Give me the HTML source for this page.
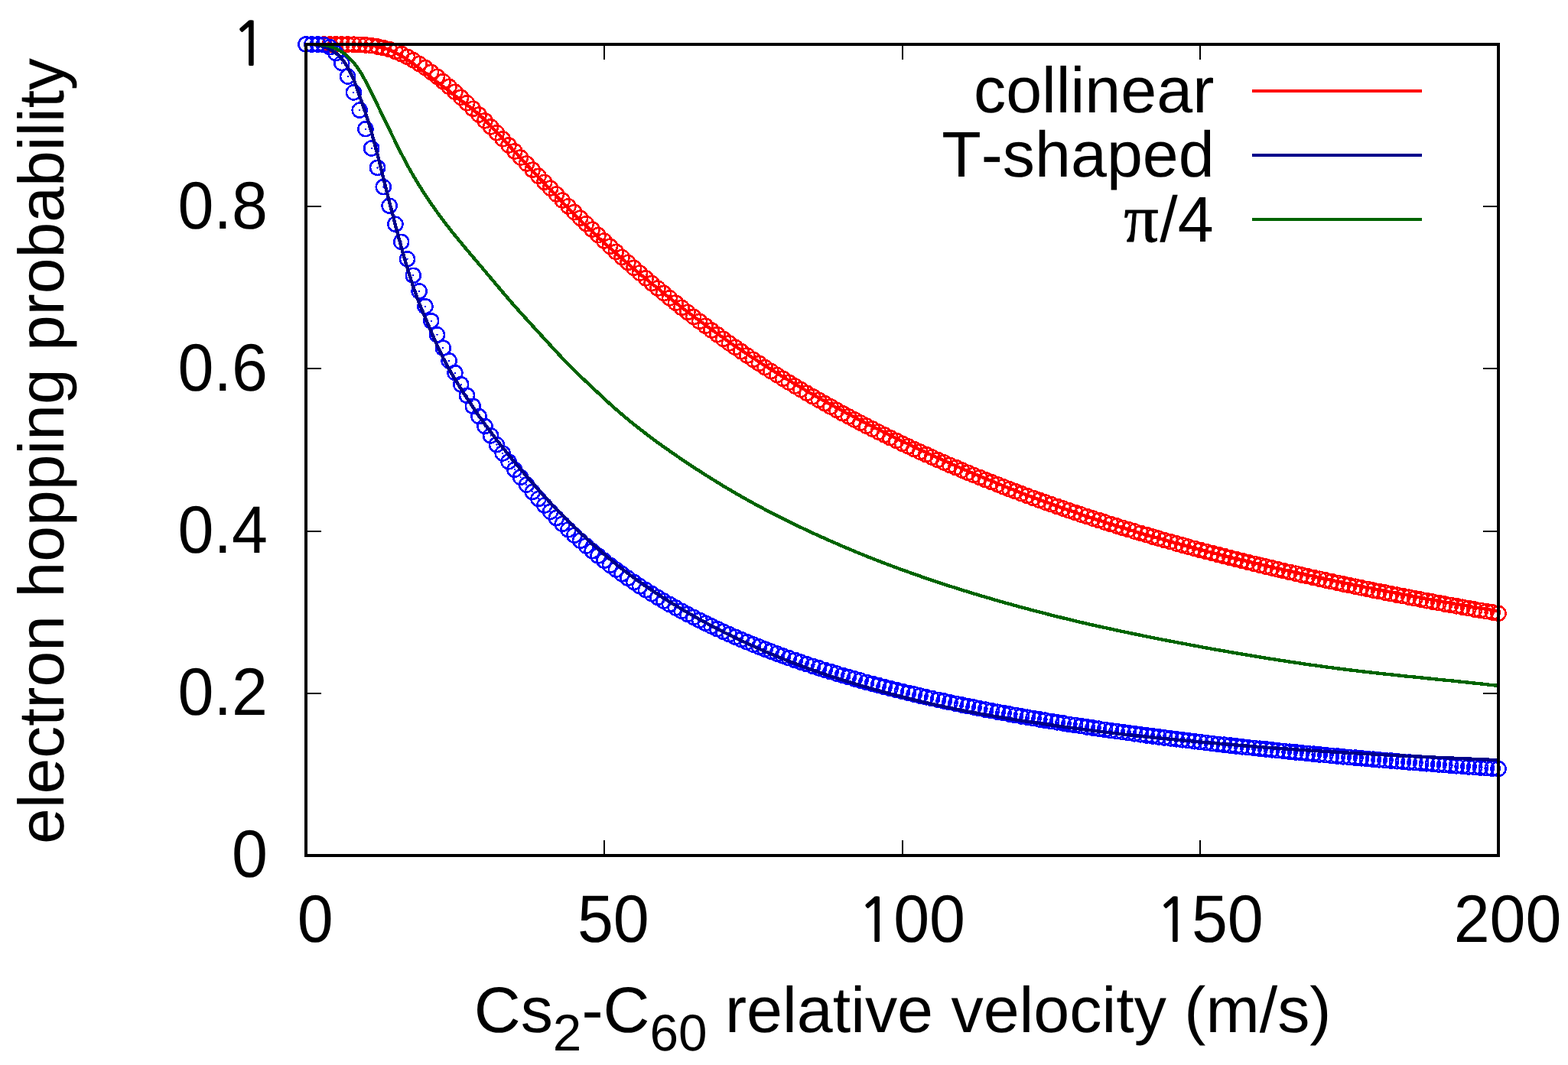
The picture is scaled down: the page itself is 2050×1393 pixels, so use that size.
<!DOCTYPE html>
<html lang="en"><head><meta charset="utf-8"><title>electron hopping probability</title>
<style>html,body{margin:0;padding:0;background:#fff}body{width:2050px;height:1393px;overflow:hidden}svg{display:block}text{font-family:"Liberation Sans",sans-serif;font-size:84.4px;fill:#000;font-kerning:none;text-rendering:geometricPrecision}.pi{font-family:"Liberation Serif",serif}.one{font-family:"NanumGothic","Liberation Sans",sans-serif;font-size:75.2px;stroke:#000;stroke-width:1.5px}</style></head><body>
<svg width="2050" height="1393" viewBox="0 0 2050 1393">
<rect width="2050" height="1393" fill="#fff"/>
<g fill="none" stroke="#ff0000" stroke-width="2.6" shape-rendering="crispEdges">
<circle cx="400" cy="58" r="9.5"/>
<circle cx="407.8" cy="58" r="9.5"/>
<circle cx="415.6" cy="58" r="9.5"/>
<circle cx="423.4" cy="58" r="9.5"/>
<circle cx="431.2" cy="58" r="9.5"/>
<circle cx="439" cy="58" r="9.5"/>
<circle cx="446.8" cy="58" r="9.5"/>
<circle cx="454.6" cy="58" r="9.5"/>
<circle cx="462.4" cy="58.2" r="9.5"/>
<circle cx="470.2" cy="58.4" r="9.5"/>
<circle cx="477.9" cy="58.9" r="9.5"/>
<circle cx="485.7" cy="59.7" r="9.5"/>
<circle cx="493.5" cy="60.9" r="9.5"/>
<circle cx="501.3" cy="62.5" r="9.5"/>
<circle cx="509.1" cy="64.7" r="9.5"/>
<circle cx="516.9" cy="67.4" r="9.5"/>
<circle cx="524.7" cy="70.6" r="9.5"/>
<circle cx="532.5" cy="74.4" r="9.5"/>
<circle cx="540.3" cy="78.7" r="9.5"/>
<circle cx="548.1" cy="83.4" r="9.5"/>
<circle cx="555.9" cy="88.6" r="9.5"/>
<circle cx="563.7" cy="94.3" r="9.5"/>
<circle cx="571.5" cy="100.3" r="9.5"/>
<circle cx="579.3" cy="106.6" r="9.5"/>
<circle cx="587.1" cy="113.3" r="9.5"/>
<circle cx="594.9" cy="120.2" r="9.5"/>
<circle cx="602.7" cy="127.4" r="9.5"/>
<circle cx="610.5" cy="134.8" r="9.5"/>
<circle cx="618.3" cy="142.3" r="9.5"/>
<circle cx="626.1" cy="150" r="9.5"/>
<circle cx="633.9" cy="157.8" r="9.5"/>
<circle cx="641.6" cy="165.8" r="9.5"/>
<circle cx="649.4" cy="173.7" r="9.5"/>
<circle cx="657.2" cy="181.8" r="9.5"/>
<circle cx="665" cy="189.9" r="9.5"/>
<circle cx="672.8" cy="197.9" r="9.5"/>
<circle cx="680.6" cy="206" r="9.5"/>
<circle cx="688.4" cy="214.1" r="9.5"/>
<circle cx="696.2" cy="222.2" r="9.5"/>
<circle cx="704" cy="230.3" r="9.5"/>
<circle cx="711.8" cy="238.3" r="9.5"/>
<circle cx="719.6" cy="246.2" r="9.5"/>
<circle cx="727.4" cy="254.1" r="9.5"/>
<circle cx="735.2" cy="262" r="9.5"/>
<circle cx="743" cy="269.8" r="9.5"/>
<circle cx="750.8" cy="277.5" r="9.5"/>
<circle cx="758.6" cy="285.2" r="9.5"/>
<circle cx="766.4" cy="292.7" r="9.5"/>
<circle cx="774.2" cy="300.2" r="9.5"/>
<circle cx="782" cy="307.6" r="9.5"/>
<circle cx="789.8" cy="315" r="9.5"/>
<circle cx="797.5" cy="322.2" r="9.5"/>
<circle cx="805.3" cy="329.4" r="9.5"/>
<circle cx="813.1" cy="336.4" r="9.5"/>
<circle cx="820.9" cy="343.4" r="9.5"/>
<circle cx="828.7" cy="350.3" r="9.5"/>
<circle cx="836.5" cy="357.1" r="9.5"/>
<circle cx="844.3" cy="363.9" r="9.5"/>
<circle cx="852.1" cy="370.5" r="9.5"/>
<circle cx="859.9" cy="377" r="9.5"/>
<circle cx="867.7" cy="383.5" r="9.5"/>
<circle cx="875.5" cy="389.8" r="9.5"/>
<circle cx="883.3" cy="396.1" r="9.5"/>
<circle cx="891.1" cy="402.3" r="9.5"/>
<circle cx="898.9" cy="408.4" r="9.5"/>
<circle cx="906.7" cy="414.5" r="9.5"/>
<circle cx="914.5" cy="420.4" r="9.5"/>
<circle cx="922.3" cy="426.2" r="9.5"/>
<circle cx="930.1" cy="432" r="9.5"/>
<circle cx="937.9" cy="437.7" r="9.5"/>
<circle cx="945.6" cy="443.3" r="9.5"/>
<circle cx="953.4" cy="448.9" r="9.5"/>
<circle cx="961.2" cy="454.3" r="9.5"/>
<circle cx="969" cy="459.7" r="9.5"/>
<circle cx="976.8" cy="465" r="9.5"/>
<circle cx="984.6" cy="470.3" r="9.5"/>
<circle cx="992.4" cy="475.4" r="9.5"/>
<circle cx="1000.2" cy="480.5" r="9.5"/>
<circle cx="1008" cy="485.5" r="9.5"/>
<circle cx="1015.8" cy="490.5" r="9.5"/>
<circle cx="1023.6" cy="495.3" r="9.5"/>
<circle cx="1031.4" cy="500.2" r="9.5"/>
<circle cx="1039.2" cy="504.9" r="9.5"/>
<circle cx="1047" cy="509.6" r="9.5"/>
<circle cx="1054.8" cy="514.2" r="9.5"/>
<circle cx="1062.6" cy="518.7" r="9.5"/>
<circle cx="1070.4" cy="523.2" r="9.5"/>
<circle cx="1078.2" cy="527.7" r="9.5"/>
<circle cx="1086" cy="532" r="9.5"/>
<circle cx="1093.8" cy="536.3" r="9.5"/>
<circle cx="1101.5" cy="540.6" r="9.5"/>
<circle cx="1109.3" cy="544.8" r="9.5"/>
<circle cx="1117.1" cy="548.9" r="9.5"/>
<circle cx="1124.9" cy="553" r="9.5"/>
<circle cx="1132.7" cy="557.1" r="9.5"/>
<circle cx="1140.5" cy="561" r="9.5"/>
<circle cx="1148.3" cy="565" r="9.5"/>
<circle cx="1156.1" cy="568.8" r="9.5"/>
<circle cx="1163.9" cy="572.7" r="9.5"/>
<circle cx="1171.7" cy="576.4" r="9.5"/>
<circle cx="1179.5" cy="580.2" r="9.5"/>
<circle cx="1187.3" cy="583.8" r="9.5"/>
<circle cx="1195.1" cy="587.5" r="9.5"/>
<circle cx="1202.9" cy="591.1" r="9.5"/>
<circle cx="1210.7" cy="594.6" r="9.5"/>
<circle cx="1218.5" cy="598.1" r="9.5"/>
<circle cx="1226.3" cy="601.5" r="9.5"/>
<circle cx="1234.1" cy="604.9" r="9.5"/>
<circle cx="1241.9" cy="608.3" r="9.5"/>
<circle cx="1249.7" cy="611.6" r="9.5"/>
<circle cx="1257.5" cy="614.9" r="9.5"/>
<circle cx="1265.2" cy="618.2" r="9.5"/>
<circle cx="1273" cy="621.4" r="9.5"/>
<circle cx="1280.8" cy="624.5" r="9.5"/>
<circle cx="1288.6" cy="627.7" r="9.5"/>
<circle cx="1296.4" cy="630.7" r="9.5"/>
<circle cx="1304.2" cy="633.8" r="9.5"/>
<circle cx="1312" cy="636.8" r="9.5"/>
<circle cx="1319.8" cy="639.8" r="9.5"/>
<circle cx="1327.6" cy="642.7" r="9.5"/>
<circle cx="1335.4" cy="645.7" r="9.5"/>
<circle cx="1343.2" cy="648.5" r="9.5"/>
<circle cx="1351" cy="651.4" r="9.5"/>
<circle cx="1358.8" cy="654.2" r="9.5"/>
<circle cx="1366.6" cy="657" r="9.5"/>
<circle cx="1374.4" cy="659.7" r="9.5"/>
<circle cx="1382.2" cy="662.4" r="9.5"/>
<circle cx="1390" cy="665.1" r="9.5"/>
<circle cx="1397.8" cy="667.8" r="9.5"/>
<circle cx="1405.6" cy="670.4" r="9.5"/>
<circle cx="1413.3" cy="673" r="9.5"/>
<circle cx="1421.1" cy="675.5" r="9.5"/>
<circle cx="1428.9" cy="678.1" r="9.5"/>
<circle cx="1436.7" cy="680.6" r="9.5"/>
<circle cx="1444.5" cy="683.1" r="9.5"/>
<circle cx="1452.3" cy="685.5" r="9.5"/>
<circle cx="1460.1" cy="688" r="9.5"/>
<circle cx="1467.9" cy="690.4" r="9.5"/>
<circle cx="1475.7" cy="692.7" r="9.5"/>
<circle cx="1483.5" cy="695.1" r="9.5"/>
<circle cx="1491.3" cy="697.4" r="9.5"/>
<circle cx="1499.1" cy="699.7" r="9.5"/>
<circle cx="1506.9" cy="702" r="9.5"/>
<circle cx="1514.7" cy="704.2" r="9.5"/>
<circle cx="1522.5" cy="706.5" r="9.5"/>
<circle cx="1530.3" cy="708.7" r="9.5"/>
<circle cx="1538.1" cy="710.9" r="9.5"/>
<circle cx="1545.9" cy="713" r="9.5"/>
<circle cx="1553.7" cy="715.2" r="9.5"/>
<circle cx="1561.5" cy="717.3" r="9.5"/>
<circle cx="1569.2" cy="719.4" r="9.5"/>
<circle cx="1577" cy="721.4" r="9.5"/>
<circle cx="1584.8" cy="723.5" r="9.5"/>
<circle cx="1592.6" cy="725.5" r="9.5"/>
<circle cx="1600.4" cy="727.5" r="9.5"/>
<circle cx="1608.2" cy="729.5" r="9.5"/>
<circle cx="1616" cy="731.5" r="9.5"/>
<circle cx="1623.8" cy="733.4" r="9.5"/>
<circle cx="1631.6" cy="735.4" r="9.5"/>
<circle cx="1639.4" cy="737.3" r="9.5"/>
<circle cx="1647.2" cy="739.2" r="9.5"/>
<circle cx="1655" cy="741.1" r="9.5"/>
<circle cx="1662.8" cy="742.9" r="9.5"/>
<circle cx="1670.6" cy="744.8" r="9.5"/>
<circle cx="1678.4" cy="746.6" r="9.5"/>
<circle cx="1686.2" cy="748.4" r="9.5"/>
<circle cx="1694" cy="750.2" r="9.5"/>
<circle cx="1701.8" cy="752" r="9.5"/>
<circle cx="1709.6" cy="753.7" r="9.5"/>
<circle cx="1717.4" cy="755.5" r="9.5"/>
<circle cx="1725.2" cy="757.2" r="9.5"/>
<circle cx="1732.9" cy="758.9" r="9.5"/>
<circle cx="1740.7" cy="760.6" r="9.5"/>
<circle cx="1748.5" cy="762.3" r="9.5"/>
<circle cx="1756.3" cy="763.9" r="9.5"/>
<circle cx="1764.1" cy="765.6" r="9.5"/>
<circle cx="1771.9" cy="767.2" r="9.5"/>
<circle cx="1779.7" cy="768.8" r="9.5"/>
<circle cx="1787.5" cy="770.4" r="9.5"/>
<circle cx="1795.3" cy="772" r="9.5"/>
<circle cx="1803.1" cy="773.6" r="9.5"/>
<circle cx="1810.9" cy="775.1" r="9.5"/>
<circle cx="1818.7" cy="776.7" r="9.5"/>
<circle cx="1826.5" cy="778.2" r="9.5"/>
<circle cx="1834.3" cy="779.7" r="9.5"/>
<circle cx="1842.1" cy="781.2" r="9.5"/>
<circle cx="1849.9" cy="782.7" r="9.5"/>
<circle cx="1857.7" cy="784.2" r="9.5"/>
<circle cx="1865.5" cy="785.7" r="9.5"/>
<circle cx="1873.3" cy="787.1" r="9.5"/>
<circle cx="1881" cy="788.6" r="9.5"/>
<circle cx="1888.8" cy="790" r="9.5"/>
<circle cx="1896.6" cy="791.4" r="9.5"/>
<circle cx="1904.4" cy="792.8" r="9.5"/>
<circle cx="1912.2" cy="794.2" r="9.5"/>
<circle cx="1920" cy="795.6" r="9.5"/>
<circle cx="1927.8" cy="797" r="9.5"/>
<circle cx="1935.6" cy="798.3" r="9.5"/>
<circle cx="1943.4" cy="799.7" r="9.5"/>
<circle cx="1951.2" cy="801" r="9.5"/>
<circle cx="1959" cy="802.3" r="9.5"/>
</g>
<g fill="#ff0000" shape-rendering="crispEdges">
<circle cx="400" cy="58" r="1.15"/>
<circle cx="407.8" cy="58" r="1.15"/>
<circle cx="415.6" cy="58" r="1.15"/>
<circle cx="423.4" cy="58" r="1.15"/>
<circle cx="431.2" cy="58" r="1.15"/>
<circle cx="439" cy="58" r="1.15"/>
<circle cx="446.8" cy="58" r="1.15"/>
<circle cx="454.6" cy="58" r="1.15"/>
<circle cx="462.4" cy="58.2" r="1.15"/>
<circle cx="470.2" cy="58.4" r="1.15"/>
<circle cx="477.9" cy="58.9" r="1.15"/>
<circle cx="485.7" cy="59.7" r="1.15"/>
<circle cx="493.5" cy="60.9" r="1.15"/>
<circle cx="501.3" cy="62.5" r="1.15"/>
<circle cx="509.1" cy="64.7" r="1.15"/>
<circle cx="516.9" cy="67.4" r="1.15"/>
<circle cx="524.7" cy="70.6" r="1.15"/>
<circle cx="532.5" cy="74.4" r="1.15"/>
<circle cx="540.3" cy="78.7" r="1.15"/>
<circle cx="548.1" cy="83.4" r="1.15"/>
<circle cx="555.9" cy="88.6" r="1.15"/>
<circle cx="563.7" cy="94.3" r="1.15"/>
<circle cx="571.5" cy="100.3" r="1.15"/>
<circle cx="579.3" cy="106.6" r="1.15"/>
<circle cx="587.1" cy="113.3" r="1.15"/>
<circle cx="594.9" cy="120.2" r="1.15"/>
<circle cx="602.7" cy="127.4" r="1.15"/>
<circle cx="610.5" cy="134.8" r="1.15"/>
<circle cx="618.3" cy="142.3" r="1.15"/>
<circle cx="626.1" cy="150" r="1.15"/>
<circle cx="633.9" cy="157.8" r="1.15"/>
<circle cx="641.6" cy="165.8" r="1.15"/>
<circle cx="649.4" cy="173.7" r="1.15"/>
<circle cx="657.2" cy="181.8" r="1.15"/>
<circle cx="665" cy="189.9" r="1.15"/>
<circle cx="672.8" cy="197.9" r="1.15"/>
<circle cx="680.6" cy="206" r="1.15"/>
<circle cx="688.4" cy="214.1" r="1.15"/>
<circle cx="696.2" cy="222.2" r="1.15"/>
<circle cx="704" cy="230.3" r="1.15"/>
<circle cx="711.8" cy="238.3" r="1.15"/>
<circle cx="719.6" cy="246.2" r="1.15"/>
<circle cx="727.4" cy="254.1" r="1.15"/>
<circle cx="735.2" cy="262" r="1.15"/>
<circle cx="743" cy="269.8" r="1.15"/>
<circle cx="750.8" cy="277.5" r="1.15"/>
<circle cx="758.6" cy="285.2" r="1.15"/>
<circle cx="766.4" cy="292.7" r="1.15"/>
<circle cx="774.2" cy="300.2" r="1.15"/>
<circle cx="782" cy="307.6" r="1.15"/>
<circle cx="789.8" cy="315" r="1.15"/>
<circle cx="797.5" cy="322.2" r="1.15"/>
<circle cx="805.3" cy="329.4" r="1.15"/>
<circle cx="813.1" cy="336.4" r="1.15"/>
<circle cx="820.9" cy="343.4" r="1.15"/>
<circle cx="828.7" cy="350.3" r="1.15"/>
<circle cx="836.5" cy="357.1" r="1.15"/>
<circle cx="844.3" cy="363.9" r="1.15"/>
<circle cx="852.1" cy="370.5" r="1.15"/>
<circle cx="859.9" cy="377" r="1.15"/>
<circle cx="867.7" cy="383.5" r="1.15"/>
<circle cx="875.5" cy="389.8" r="1.15"/>
<circle cx="883.3" cy="396.1" r="1.15"/>
<circle cx="891.1" cy="402.3" r="1.15"/>
<circle cx="898.9" cy="408.4" r="1.15"/>
<circle cx="906.7" cy="414.5" r="1.15"/>
<circle cx="914.5" cy="420.4" r="1.15"/>
<circle cx="922.3" cy="426.2" r="1.15"/>
<circle cx="930.1" cy="432" r="1.15"/>
<circle cx="937.9" cy="437.7" r="1.15"/>
<circle cx="945.6" cy="443.3" r="1.15"/>
<circle cx="953.4" cy="448.9" r="1.15"/>
<circle cx="961.2" cy="454.3" r="1.15"/>
<circle cx="969" cy="459.7" r="1.15"/>
<circle cx="976.8" cy="465" r="1.15"/>
<circle cx="984.6" cy="470.3" r="1.15"/>
<circle cx="992.4" cy="475.4" r="1.15"/>
<circle cx="1000.2" cy="480.5" r="1.15"/>
<circle cx="1008" cy="485.5" r="1.15"/>
<circle cx="1015.8" cy="490.5" r="1.15"/>
<circle cx="1023.6" cy="495.3" r="1.15"/>
<circle cx="1031.4" cy="500.2" r="1.15"/>
<circle cx="1039.2" cy="504.9" r="1.15"/>
<circle cx="1047" cy="509.6" r="1.15"/>
<circle cx="1054.8" cy="514.2" r="1.15"/>
<circle cx="1062.6" cy="518.7" r="1.15"/>
<circle cx="1070.4" cy="523.2" r="1.15"/>
<circle cx="1078.2" cy="527.7" r="1.15"/>
<circle cx="1086" cy="532" r="1.15"/>
<circle cx="1093.8" cy="536.3" r="1.15"/>
<circle cx="1101.5" cy="540.6" r="1.15"/>
<circle cx="1109.3" cy="544.8" r="1.15"/>
<circle cx="1117.1" cy="548.9" r="1.15"/>
<circle cx="1124.9" cy="553" r="1.15"/>
<circle cx="1132.7" cy="557.1" r="1.15"/>
<circle cx="1140.5" cy="561" r="1.15"/>
<circle cx="1148.3" cy="565" r="1.15"/>
<circle cx="1156.1" cy="568.8" r="1.15"/>
<circle cx="1163.9" cy="572.7" r="1.15"/>
<circle cx="1171.7" cy="576.4" r="1.15"/>
<circle cx="1179.5" cy="580.2" r="1.15"/>
<circle cx="1187.3" cy="583.8" r="1.15"/>
<circle cx="1195.1" cy="587.5" r="1.15"/>
<circle cx="1202.9" cy="591.1" r="1.15"/>
<circle cx="1210.7" cy="594.6" r="1.15"/>
<circle cx="1218.5" cy="598.1" r="1.15"/>
<circle cx="1226.3" cy="601.5" r="1.15"/>
<circle cx="1234.1" cy="604.9" r="1.15"/>
<circle cx="1241.9" cy="608.3" r="1.15"/>
<circle cx="1249.7" cy="611.6" r="1.15"/>
<circle cx="1257.5" cy="614.9" r="1.15"/>
<circle cx="1265.2" cy="618.2" r="1.15"/>
<circle cx="1273" cy="621.4" r="1.15"/>
<circle cx="1280.8" cy="624.5" r="1.15"/>
<circle cx="1288.6" cy="627.7" r="1.15"/>
<circle cx="1296.4" cy="630.7" r="1.15"/>
<circle cx="1304.2" cy="633.8" r="1.15"/>
<circle cx="1312" cy="636.8" r="1.15"/>
<circle cx="1319.8" cy="639.8" r="1.15"/>
<circle cx="1327.6" cy="642.7" r="1.15"/>
<circle cx="1335.4" cy="645.7" r="1.15"/>
<circle cx="1343.2" cy="648.5" r="1.15"/>
<circle cx="1351" cy="651.4" r="1.15"/>
<circle cx="1358.8" cy="654.2" r="1.15"/>
<circle cx="1366.6" cy="657" r="1.15"/>
<circle cx="1374.4" cy="659.7" r="1.15"/>
<circle cx="1382.2" cy="662.4" r="1.15"/>
<circle cx="1390" cy="665.1" r="1.15"/>
<circle cx="1397.8" cy="667.8" r="1.15"/>
<circle cx="1405.6" cy="670.4" r="1.15"/>
<circle cx="1413.3" cy="673" r="1.15"/>
<circle cx="1421.1" cy="675.5" r="1.15"/>
<circle cx="1428.9" cy="678.1" r="1.15"/>
<circle cx="1436.7" cy="680.6" r="1.15"/>
<circle cx="1444.5" cy="683.1" r="1.15"/>
<circle cx="1452.3" cy="685.5" r="1.15"/>
<circle cx="1460.1" cy="688" r="1.15"/>
<circle cx="1467.9" cy="690.4" r="1.15"/>
<circle cx="1475.7" cy="692.7" r="1.15"/>
<circle cx="1483.5" cy="695.1" r="1.15"/>
<circle cx="1491.3" cy="697.4" r="1.15"/>
<circle cx="1499.1" cy="699.7" r="1.15"/>
<circle cx="1506.9" cy="702" r="1.15"/>
<circle cx="1514.7" cy="704.2" r="1.15"/>
<circle cx="1522.5" cy="706.5" r="1.15"/>
<circle cx="1530.3" cy="708.7" r="1.15"/>
<circle cx="1538.1" cy="710.9" r="1.15"/>
<circle cx="1545.9" cy="713" r="1.15"/>
<circle cx="1553.7" cy="715.2" r="1.15"/>
<circle cx="1561.5" cy="717.3" r="1.15"/>
<circle cx="1569.2" cy="719.4" r="1.15"/>
<circle cx="1577" cy="721.4" r="1.15"/>
<circle cx="1584.8" cy="723.5" r="1.15"/>
<circle cx="1592.6" cy="725.5" r="1.15"/>
<circle cx="1600.4" cy="727.5" r="1.15"/>
<circle cx="1608.2" cy="729.5" r="1.15"/>
<circle cx="1616" cy="731.5" r="1.15"/>
<circle cx="1623.8" cy="733.4" r="1.15"/>
<circle cx="1631.6" cy="735.4" r="1.15"/>
<circle cx="1639.4" cy="737.3" r="1.15"/>
<circle cx="1647.2" cy="739.2" r="1.15"/>
<circle cx="1655" cy="741.1" r="1.15"/>
<circle cx="1662.8" cy="742.9" r="1.15"/>
<circle cx="1670.6" cy="744.8" r="1.15"/>
<circle cx="1678.4" cy="746.6" r="1.15"/>
<circle cx="1686.2" cy="748.4" r="1.15"/>
<circle cx="1694" cy="750.2" r="1.15"/>
<circle cx="1701.8" cy="752" r="1.15"/>
<circle cx="1709.6" cy="753.7" r="1.15"/>
<circle cx="1717.4" cy="755.5" r="1.15"/>
<circle cx="1725.2" cy="757.2" r="1.15"/>
<circle cx="1732.9" cy="758.9" r="1.15"/>
<circle cx="1740.7" cy="760.6" r="1.15"/>
<circle cx="1748.5" cy="762.3" r="1.15"/>
<circle cx="1756.3" cy="763.9" r="1.15"/>
<circle cx="1764.1" cy="765.6" r="1.15"/>
<circle cx="1771.9" cy="767.2" r="1.15"/>
<circle cx="1779.7" cy="768.8" r="1.15"/>
<circle cx="1787.5" cy="770.4" r="1.15"/>
<circle cx="1795.3" cy="772" r="1.15"/>
<circle cx="1803.1" cy="773.6" r="1.15"/>
<circle cx="1810.9" cy="775.1" r="1.15"/>
<circle cx="1818.7" cy="776.7" r="1.15"/>
<circle cx="1826.5" cy="778.2" r="1.15"/>
<circle cx="1834.3" cy="779.7" r="1.15"/>
<circle cx="1842.1" cy="781.2" r="1.15"/>
<circle cx="1849.9" cy="782.7" r="1.15"/>
<circle cx="1857.7" cy="784.2" r="1.15"/>
<circle cx="1865.5" cy="785.7" r="1.15"/>
<circle cx="1873.3" cy="787.1" r="1.15"/>
<circle cx="1881" cy="788.6" r="1.15"/>
<circle cx="1888.8" cy="790" r="1.15"/>
<circle cx="1896.6" cy="791.4" r="1.15"/>
<circle cx="1904.4" cy="792.8" r="1.15"/>
<circle cx="1912.2" cy="794.2" r="1.15"/>
<circle cx="1920" cy="795.6" r="1.15"/>
<circle cx="1927.8" cy="797" r="1.15"/>
<circle cx="1935.6" cy="798.3" r="1.15"/>
<circle cx="1943.4" cy="799.7" r="1.15"/>
<circle cx="1951.2" cy="801" r="1.15"/>
<circle cx="1959" cy="802.3" r="1.15"/>
</g>
<g fill="none" stroke="#0000ff" stroke-width="2.6" shape-rendering="crispEdges">
<circle cx="400" cy="58" r="9.5"/>
<circle cx="407.8" cy="58" r="9.5"/>
<circle cx="415.6" cy="58" r="9.5"/>
<circle cx="423.4" cy="58.6" r="9.5"/>
<circle cx="431.2" cy="61.7" r="9.5"/>
<circle cx="439" cy="69.6" r="9.5"/>
<circle cx="446.8" cy="82.5" r="9.5"/>
<circle cx="454.6" cy="100" r="9.5"/>
<circle cx="462.4" cy="120.9" r="9.5"/>
<circle cx="470.2" cy="144.1" r="9.5"/>
<circle cx="477.9" cy="168.7" r="9.5"/>
<circle cx="485.7" cy="194" r="9.5"/>
<circle cx="493.5" cy="219.4" r="9.5"/>
<circle cx="501.3" cy="244.5" r="9.5"/>
<circle cx="509.1" cy="269.2" r="9.5"/>
<circle cx="516.9" cy="293.2" r="9.5"/>
<circle cx="524.7" cy="316.4" r="9.5"/>
<circle cx="532.5" cy="338.8" r="9.5"/>
<circle cx="540.3" cy="360.3" r="9.5"/>
<circle cx="548.1" cy="380.9" r="9.5"/>
<circle cx="555.9" cy="400.7" r="9.5"/>
<circle cx="563.7" cy="419.7" r="9.5"/>
<circle cx="571.5" cy="437.8" r="9.5"/>
<circle cx="579.3" cy="455.2" r="9.5"/>
<circle cx="587.1" cy="471.8" r="9.5"/>
<circle cx="594.9" cy="487.6" r="9.5"/>
<circle cx="602.7" cy="502.8" r="9.5"/>
<circle cx="610.5" cy="517.4" r="9.5"/>
<circle cx="618.3" cy="531.3" r="9.5"/>
<circle cx="626.1" cy="544.7" r="9.5"/>
<circle cx="633.9" cy="557.5" r="9.5"/>
<circle cx="641.6" cy="569.8" r="9.5"/>
<circle cx="649.4" cy="581.6" r="9.5"/>
<circle cx="657.2" cy="592.9" r="9.5"/>
<circle cx="665" cy="603.8" r="9.5"/>
<circle cx="672.8" cy="614.3" r="9.5"/>
<circle cx="680.6" cy="624.3" r="9.5"/>
<circle cx="688.4" cy="634" r="9.5"/>
<circle cx="696.2" cy="643.4" r="9.5"/>
<circle cx="704" cy="652.4" r="9.5"/>
<circle cx="711.8" cy="661" r="9.5"/>
<circle cx="719.6" cy="669.4" r="9.5"/>
<circle cx="727.4" cy="677.5" r="9.5"/>
<circle cx="735.2" cy="685.3" r="9.5"/>
<circle cx="743" cy="692.8" r="9.5"/>
<circle cx="750.8" cy="700.1" r="9.5"/>
<circle cx="758.6" cy="707.1" r="9.5"/>
<circle cx="766.4" cy="714" r="9.5"/>
<circle cx="774.2" cy="720.6" r="9.5"/>
<circle cx="782" cy="727" r="9.5"/>
<circle cx="789.8" cy="733.2" r="9.5"/>
<circle cx="797.5" cy="739.2" r="9.5"/>
<circle cx="805.3" cy="745" r="9.5"/>
<circle cx="813.1" cy="750.7" r="9.5"/>
<circle cx="820.9" cy="756.2" r="9.5"/>
<circle cx="828.7" cy="761.5" r="9.5"/>
<circle cx="836.5" cy="766.7" r="9.5"/>
<circle cx="844.3" cy="771.7" r="9.5"/>
<circle cx="852.1" cy="776.6" r="9.5"/>
<circle cx="859.9" cy="781.4" r="9.5"/>
<circle cx="867.7" cy="786" r="9.5"/>
<circle cx="875.5" cy="790.5" r="9.5"/>
<circle cx="883.3" cy="794.9" r="9.5"/>
<circle cx="891.1" cy="799.2" r="9.5"/>
<circle cx="898.9" cy="803.3" r="9.5"/>
<circle cx="906.7" cy="807.4" r="9.5"/>
<circle cx="914.5" cy="811.4" r="9.5"/>
<circle cx="922.3" cy="815.2" r="9.5"/>
<circle cx="930.1" cy="819" r="9.5"/>
<circle cx="937.9" cy="822.7" r="9.5"/>
<circle cx="945.6" cy="826.2" r="9.5"/>
<circle cx="953.4" cy="829.7" r="9.5"/>
<circle cx="961.2" cy="833.2" r="9.5"/>
<circle cx="969" cy="836.5" r="9.5"/>
<circle cx="976.8" cy="839.8" r="9.5"/>
<circle cx="984.6" cy="843" r="9.5"/>
<circle cx="992.4" cy="846.1" r="9.5"/>
<circle cx="1000.2" cy="849.1" r="9.5"/>
<circle cx="1008" cy="852.1" r="9.5"/>
<circle cx="1015.8" cy="855" r="9.5"/>
<circle cx="1023.6" cy="857.9" r="9.5"/>
<circle cx="1031.4" cy="860.7" r="9.5"/>
<circle cx="1039.2" cy="863.4" r="9.5"/>
<circle cx="1047" cy="866.1" r="9.5"/>
<circle cx="1054.8" cy="868.7" r="9.5"/>
<circle cx="1062.6" cy="871.3" r="9.5"/>
<circle cx="1070.4" cy="873.8" r="9.5"/>
<circle cx="1078.2" cy="876.3" r="9.5"/>
<circle cx="1086" cy="878.7" r="9.5"/>
<circle cx="1093.8" cy="881.1" r="9.5"/>
<circle cx="1101.5" cy="883.4" r="9.5"/>
<circle cx="1109.3" cy="885.7" r="9.5"/>
<circle cx="1117.1" cy="887.9" r="9.5"/>
<circle cx="1124.9" cy="890.1" r="9.5"/>
<circle cx="1132.7" cy="892.3" r="9.5"/>
<circle cx="1140.5" cy="894.4" r="9.5"/>
<circle cx="1148.3" cy="896.4" r="9.5"/>
<circle cx="1156.1" cy="898.5" r="9.5"/>
<circle cx="1163.9" cy="900.5" r="9.5"/>
<circle cx="1171.7" cy="902.4" r="9.5"/>
<circle cx="1179.5" cy="904.4" r="9.5"/>
<circle cx="1187.3" cy="906.3" r="9.5"/>
<circle cx="1195.1" cy="908.1" r="9.5"/>
<circle cx="1202.9" cy="910" r="9.5"/>
<circle cx="1210.7" cy="911.8" r="9.5"/>
<circle cx="1218.5" cy="913.5" r="9.5"/>
<circle cx="1226.3" cy="915.3" r="9.5"/>
<circle cx="1234.1" cy="917" r="9.5"/>
<circle cx="1241.9" cy="918.7" r="9.5"/>
<circle cx="1249.7" cy="920.3" r="9.5"/>
<circle cx="1257.5" cy="921.9" r="9.5"/>
<circle cx="1265.2" cy="923.5" r="9.5"/>
<circle cx="1273" cy="925.1" r="9.5"/>
<circle cx="1280.8" cy="926.7" r="9.5"/>
<circle cx="1288.6" cy="928.2" r="9.5"/>
<circle cx="1296.4" cy="929.7" r="9.5"/>
<circle cx="1304.2" cy="931.2" r="9.5"/>
<circle cx="1312" cy="932.6" r="9.5"/>
<circle cx="1319.8" cy="934.1" r="9.5"/>
<circle cx="1327.6" cy="935.5" r="9.5"/>
<circle cx="1335.4" cy="936.9" r="9.5"/>
<circle cx="1343.2" cy="938.2" r="9.5"/>
<circle cx="1351" cy="939.6" r="9.5"/>
<circle cx="1358.8" cy="940.9" r="9.5"/>
<circle cx="1366.6" cy="942.2" r="9.5"/>
<circle cx="1374.4" cy="943.5" r="9.5"/>
<circle cx="1382.2" cy="944.8" r="9.5"/>
<circle cx="1390" cy="946" r="9.5"/>
<circle cx="1397.8" cy="947.3" r="9.5"/>
<circle cx="1405.6" cy="948.5" r="9.5"/>
<circle cx="1413.3" cy="949.7" r="9.5"/>
<circle cx="1421.1" cy="950.9" r="9.5"/>
<circle cx="1428.9" cy="952" r="9.5"/>
<circle cx="1436.7" cy="953.2" r="9.5"/>
<circle cx="1444.5" cy="954.3" r="9.5"/>
<circle cx="1452.3" cy="955.5" r="9.5"/>
<circle cx="1460.1" cy="956.6" r="9.5"/>
<circle cx="1467.9" cy="957.6" r="9.5"/>
<circle cx="1475.7" cy="958.7" r="9.5"/>
<circle cx="1483.5" cy="959.8" r="9.5"/>
<circle cx="1491.3" cy="960.8" r="9.5"/>
<circle cx="1499.1" cy="961.9" r="9.5"/>
<circle cx="1506.9" cy="962.9" r="9.5"/>
<circle cx="1514.7" cy="963.9" r="9.5"/>
<circle cx="1522.5" cy="964.9" r="9.5"/>
<circle cx="1530.3" cy="965.9" r="9.5"/>
<circle cx="1538.1" cy="966.8" r="9.5"/>
<circle cx="1545.9" cy="967.8" r="9.5"/>
<circle cx="1553.7" cy="968.7" r="9.5"/>
<circle cx="1561.5" cy="969.7" r="9.5"/>
<circle cx="1569.2" cy="970.6" r="9.5"/>
<circle cx="1577" cy="971.5" r="9.5"/>
<circle cx="1584.8" cy="972.4" r="9.5"/>
<circle cx="1592.6" cy="973.3" r="9.5"/>
<circle cx="1600.4" cy="974.2" r="9.5"/>
<circle cx="1608.2" cy="975" r="9.5"/>
<circle cx="1616" cy="975.9" r="9.5"/>
<circle cx="1623.8" cy="976.8" r="9.5"/>
<circle cx="1631.6" cy="977.6" r="9.5"/>
<circle cx="1639.4" cy="978.4" r="9.5"/>
<circle cx="1647.2" cy="979.2" r="9.5"/>
<circle cx="1655" cy="980" r="9.5"/>
<circle cx="1662.8" cy="980.8" r="9.5"/>
<circle cx="1670.6" cy="981.6" r="9.5"/>
<circle cx="1678.4" cy="982.4" r="9.5"/>
<circle cx="1686.2" cy="983.2" r="9.5"/>
<circle cx="1694" cy="984" r="9.5"/>
<circle cx="1701.8" cy="984.7" r="9.5"/>
<circle cx="1709.6" cy="985.5" r="9.5"/>
<circle cx="1717.4" cy="986.2" r="9.5"/>
<circle cx="1725.2" cy="986.9" r="9.5"/>
<circle cx="1732.9" cy="987.6" r="9.5"/>
<circle cx="1740.7" cy="988.4" r="9.5"/>
<circle cx="1748.5" cy="989.1" r="9.5"/>
<circle cx="1756.3" cy="989.8" r="9.5"/>
<circle cx="1764.1" cy="990.5" r="9.5"/>
<circle cx="1771.9" cy="991.1" r="9.5"/>
<circle cx="1779.7" cy="991.8" r="9.5"/>
<circle cx="1787.5" cy="992.5" r="9.5"/>
<circle cx="1795.3" cy="993.2" r="9.5"/>
<circle cx="1803.1" cy="993.8" r="9.5"/>
<circle cx="1810.9" cy="994.5" r="9.5"/>
<circle cx="1818.7" cy="995.1" r="9.5"/>
<circle cx="1826.5" cy="995.7" r="9.5"/>
<circle cx="1834.3" cy="996.4" r="9.5"/>
<circle cx="1842.1" cy="997" r="9.5"/>
<circle cx="1849.9" cy="997.6" r="9.5"/>
<circle cx="1857.7" cy="998.2" r="9.5"/>
<circle cx="1865.5" cy="998.8" r="9.5"/>
<circle cx="1873.3" cy="999.4" r="9.5"/>
<circle cx="1881" cy="1000" r="9.5"/>
<circle cx="1888.8" cy="1000.6" r="9.5"/>
<circle cx="1896.6" cy="1001.2" r="9.5"/>
<circle cx="1904.4" cy="1001.8" r="9.5"/>
<circle cx="1912.2" cy="1002.3" r="9.5"/>
<circle cx="1920" cy="1002.9" r="9.5"/>
<circle cx="1927.8" cy="1003.5" r="9.5"/>
<circle cx="1935.6" cy="1004" r="9.5"/>
<circle cx="1943.4" cy="1004.6" r="9.5"/>
<circle cx="1951.2" cy="1005.1" r="9.5"/>
<circle cx="1959" cy="1005.6" r="9.5"/>
</g>
<g fill="#0000ff" shape-rendering="crispEdges">
<circle cx="400" cy="58" r="1.15"/>
<circle cx="407.8" cy="58" r="1.15"/>
<circle cx="415.6" cy="58" r="1.15"/>
<circle cx="423.4" cy="58.6" r="1.15"/>
<circle cx="431.2" cy="61.7" r="1.15"/>
<circle cx="439" cy="69.6" r="1.15"/>
<circle cx="446.8" cy="82.5" r="1.15"/>
<circle cx="454.6" cy="100" r="1.15"/>
<circle cx="462.4" cy="120.9" r="1.15"/>
<circle cx="470.2" cy="144.1" r="1.15"/>
<circle cx="477.9" cy="168.7" r="1.15"/>
<circle cx="485.7" cy="194" r="1.15"/>
<circle cx="493.5" cy="219.4" r="1.15"/>
<circle cx="501.3" cy="244.5" r="1.15"/>
<circle cx="509.1" cy="269.2" r="1.15"/>
<circle cx="516.9" cy="293.2" r="1.15"/>
<circle cx="524.7" cy="316.4" r="1.15"/>
<circle cx="532.5" cy="338.8" r="1.15"/>
<circle cx="540.3" cy="360.3" r="1.15"/>
<circle cx="548.1" cy="380.9" r="1.15"/>
<circle cx="555.9" cy="400.7" r="1.15"/>
<circle cx="563.7" cy="419.7" r="1.15"/>
<circle cx="571.5" cy="437.8" r="1.15"/>
<circle cx="579.3" cy="455.2" r="1.15"/>
<circle cx="587.1" cy="471.8" r="1.15"/>
<circle cx="594.9" cy="487.6" r="1.15"/>
<circle cx="602.7" cy="502.8" r="1.15"/>
<circle cx="610.5" cy="517.4" r="1.15"/>
<circle cx="618.3" cy="531.3" r="1.15"/>
<circle cx="626.1" cy="544.7" r="1.15"/>
<circle cx="633.9" cy="557.5" r="1.15"/>
<circle cx="641.6" cy="569.8" r="1.15"/>
<circle cx="649.4" cy="581.6" r="1.15"/>
<circle cx="657.2" cy="592.9" r="1.15"/>
<circle cx="665" cy="603.8" r="1.15"/>
<circle cx="672.8" cy="614.3" r="1.15"/>
<circle cx="680.6" cy="624.3" r="1.15"/>
<circle cx="688.4" cy="634" r="1.15"/>
<circle cx="696.2" cy="643.4" r="1.15"/>
<circle cx="704" cy="652.4" r="1.15"/>
<circle cx="711.8" cy="661" r="1.15"/>
<circle cx="719.6" cy="669.4" r="1.15"/>
<circle cx="727.4" cy="677.5" r="1.15"/>
<circle cx="735.2" cy="685.3" r="1.15"/>
<circle cx="743" cy="692.8" r="1.15"/>
<circle cx="750.8" cy="700.1" r="1.15"/>
<circle cx="758.6" cy="707.1" r="1.15"/>
<circle cx="766.4" cy="714" r="1.15"/>
<circle cx="774.2" cy="720.6" r="1.15"/>
<circle cx="782" cy="727" r="1.15"/>
<circle cx="789.8" cy="733.2" r="1.15"/>
<circle cx="797.5" cy="739.2" r="1.15"/>
<circle cx="805.3" cy="745" r="1.15"/>
<circle cx="813.1" cy="750.7" r="1.15"/>
<circle cx="820.9" cy="756.2" r="1.15"/>
<circle cx="828.7" cy="761.5" r="1.15"/>
<circle cx="836.5" cy="766.7" r="1.15"/>
<circle cx="844.3" cy="771.7" r="1.15"/>
<circle cx="852.1" cy="776.6" r="1.15"/>
<circle cx="859.9" cy="781.4" r="1.15"/>
<circle cx="867.7" cy="786" r="1.15"/>
<circle cx="875.5" cy="790.5" r="1.15"/>
<circle cx="883.3" cy="794.9" r="1.15"/>
<circle cx="891.1" cy="799.2" r="1.15"/>
<circle cx="898.9" cy="803.3" r="1.15"/>
<circle cx="906.7" cy="807.4" r="1.15"/>
<circle cx="914.5" cy="811.4" r="1.15"/>
<circle cx="922.3" cy="815.2" r="1.15"/>
<circle cx="930.1" cy="819" r="1.15"/>
<circle cx="937.9" cy="822.7" r="1.15"/>
<circle cx="945.6" cy="826.2" r="1.15"/>
<circle cx="953.4" cy="829.7" r="1.15"/>
<circle cx="961.2" cy="833.2" r="1.15"/>
<circle cx="969" cy="836.5" r="1.15"/>
<circle cx="976.8" cy="839.8" r="1.15"/>
<circle cx="984.6" cy="843" r="1.15"/>
<circle cx="992.4" cy="846.1" r="1.15"/>
<circle cx="1000.2" cy="849.1" r="1.15"/>
<circle cx="1008" cy="852.1" r="1.15"/>
<circle cx="1015.8" cy="855" r="1.15"/>
<circle cx="1023.6" cy="857.9" r="1.15"/>
<circle cx="1031.4" cy="860.7" r="1.15"/>
<circle cx="1039.2" cy="863.4" r="1.15"/>
<circle cx="1047" cy="866.1" r="1.15"/>
<circle cx="1054.8" cy="868.7" r="1.15"/>
<circle cx="1062.6" cy="871.3" r="1.15"/>
<circle cx="1070.4" cy="873.8" r="1.15"/>
<circle cx="1078.2" cy="876.3" r="1.15"/>
<circle cx="1086" cy="878.7" r="1.15"/>
<circle cx="1093.8" cy="881.1" r="1.15"/>
<circle cx="1101.5" cy="883.4" r="1.15"/>
<circle cx="1109.3" cy="885.7" r="1.15"/>
<circle cx="1117.1" cy="887.9" r="1.15"/>
<circle cx="1124.9" cy="890.1" r="1.15"/>
<circle cx="1132.7" cy="892.3" r="1.15"/>
<circle cx="1140.5" cy="894.4" r="1.15"/>
<circle cx="1148.3" cy="896.4" r="1.15"/>
<circle cx="1156.1" cy="898.5" r="1.15"/>
<circle cx="1163.9" cy="900.5" r="1.15"/>
<circle cx="1171.7" cy="902.4" r="1.15"/>
<circle cx="1179.5" cy="904.4" r="1.15"/>
<circle cx="1187.3" cy="906.3" r="1.15"/>
<circle cx="1195.1" cy="908.1" r="1.15"/>
<circle cx="1202.9" cy="910" r="1.15"/>
<circle cx="1210.7" cy="911.8" r="1.15"/>
<circle cx="1218.5" cy="913.5" r="1.15"/>
<circle cx="1226.3" cy="915.3" r="1.15"/>
<circle cx="1234.1" cy="917" r="1.15"/>
<circle cx="1241.9" cy="918.7" r="1.15"/>
<circle cx="1249.7" cy="920.3" r="1.15"/>
<circle cx="1257.5" cy="921.9" r="1.15"/>
<circle cx="1265.2" cy="923.5" r="1.15"/>
<circle cx="1273" cy="925.1" r="1.15"/>
<circle cx="1280.8" cy="926.7" r="1.15"/>
<circle cx="1288.6" cy="928.2" r="1.15"/>
<circle cx="1296.4" cy="929.7" r="1.15"/>
<circle cx="1304.2" cy="931.2" r="1.15"/>
<circle cx="1312" cy="932.6" r="1.15"/>
<circle cx="1319.8" cy="934.1" r="1.15"/>
<circle cx="1327.6" cy="935.5" r="1.15"/>
<circle cx="1335.4" cy="936.9" r="1.15"/>
<circle cx="1343.2" cy="938.2" r="1.15"/>
<circle cx="1351" cy="939.6" r="1.15"/>
<circle cx="1358.8" cy="940.9" r="1.15"/>
<circle cx="1366.6" cy="942.2" r="1.15"/>
<circle cx="1374.4" cy="943.5" r="1.15"/>
<circle cx="1382.2" cy="944.8" r="1.15"/>
<circle cx="1390" cy="946" r="1.15"/>
<circle cx="1397.8" cy="947.3" r="1.15"/>
<circle cx="1405.6" cy="948.5" r="1.15"/>
<circle cx="1413.3" cy="949.7" r="1.15"/>
<circle cx="1421.1" cy="950.9" r="1.15"/>
<circle cx="1428.9" cy="952" r="1.15"/>
<circle cx="1436.7" cy="953.2" r="1.15"/>
<circle cx="1444.5" cy="954.3" r="1.15"/>
<circle cx="1452.3" cy="955.5" r="1.15"/>
<circle cx="1460.1" cy="956.6" r="1.15"/>
<circle cx="1467.9" cy="957.6" r="1.15"/>
<circle cx="1475.7" cy="958.7" r="1.15"/>
<circle cx="1483.5" cy="959.8" r="1.15"/>
<circle cx="1491.3" cy="960.8" r="1.15"/>
<circle cx="1499.1" cy="961.9" r="1.15"/>
<circle cx="1506.9" cy="962.9" r="1.15"/>
<circle cx="1514.7" cy="963.9" r="1.15"/>
<circle cx="1522.5" cy="964.9" r="1.15"/>
<circle cx="1530.3" cy="965.9" r="1.15"/>
<circle cx="1538.1" cy="966.8" r="1.15"/>
<circle cx="1545.9" cy="967.8" r="1.15"/>
<circle cx="1553.7" cy="968.7" r="1.15"/>
<circle cx="1561.5" cy="969.7" r="1.15"/>
<circle cx="1569.2" cy="970.6" r="1.15"/>
<circle cx="1577" cy="971.5" r="1.15"/>
<circle cx="1584.8" cy="972.4" r="1.15"/>
<circle cx="1592.6" cy="973.3" r="1.15"/>
<circle cx="1600.4" cy="974.2" r="1.15"/>
<circle cx="1608.2" cy="975" r="1.15"/>
<circle cx="1616" cy="975.9" r="1.15"/>
<circle cx="1623.8" cy="976.8" r="1.15"/>
<circle cx="1631.6" cy="977.6" r="1.15"/>
<circle cx="1639.4" cy="978.4" r="1.15"/>
<circle cx="1647.2" cy="979.2" r="1.15"/>
<circle cx="1655" cy="980" r="1.15"/>
<circle cx="1662.8" cy="980.8" r="1.15"/>
<circle cx="1670.6" cy="981.6" r="1.15"/>
<circle cx="1678.4" cy="982.4" r="1.15"/>
<circle cx="1686.2" cy="983.2" r="1.15"/>
<circle cx="1694" cy="984" r="1.15"/>
<circle cx="1701.8" cy="984.7" r="1.15"/>
<circle cx="1709.6" cy="985.5" r="1.15"/>
<circle cx="1717.4" cy="986.2" r="1.15"/>
<circle cx="1725.2" cy="986.9" r="1.15"/>
<circle cx="1732.9" cy="987.6" r="1.15"/>
<circle cx="1740.7" cy="988.4" r="1.15"/>
<circle cx="1748.5" cy="989.1" r="1.15"/>
<circle cx="1756.3" cy="989.8" r="1.15"/>
<circle cx="1764.1" cy="990.5" r="1.15"/>
<circle cx="1771.9" cy="991.1" r="1.15"/>
<circle cx="1779.7" cy="991.8" r="1.15"/>
<circle cx="1787.5" cy="992.5" r="1.15"/>
<circle cx="1795.3" cy="993.2" r="1.15"/>
<circle cx="1803.1" cy="993.8" r="1.15"/>
<circle cx="1810.9" cy="994.5" r="1.15"/>
<circle cx="1818.7" cy="995.1" r="1.15"/>
<circle cx="1826.5" cy="995.7" r="1.15"/>
<circle cx="1834.3" cy="996.4" r="1.15"/>
<circle cx="1842.1" cy="997" r="1.15"/>
<circle cx="1849.9" cy="997.6" r="1.15"/>
<circle cx="1857.7" cy="998.2" r="1.15"/>
<circle cx="1865.5" cy="998.8" r="1.15"/>
<circle cx="1873.3" cy="999.4" r="1.15"/>
<circle cx="1881" cy="1000" r="1.15"/>
<circle cx="1888.8" cy="1000.6" r="1.15"/>
<circle cx="1896.6" cy="1001.2" r="1.15"/>
<circle cx="1904.4" cy="1001.8" r="1.15"/>
<circle cx="1912.2" cy="1002.3" r="1.15"/>
<circle cx="1920" cy="1002.9" r="1.15"/>
<circle cx="1927.8" cy="1003.5" r="1.15"/>
<circle cx="1935.6" cy="1004" r="1.15"/>
<circle cx="1943.4" cy="1004.6" r="1.15"/>
<circle cx="1951.2" cy="1005.1" r="1.15"/>
<circle cx="1959" cy="1005.6" r="1.15"/>
</g>
<polyline fill="none" stroke="#ff0000" stroke-width="4.4" stroke-linejoin="round" shape-rendering="crispEdges" points="400,58 403.9,58 407.8,58 411.7,58 415.6,58 419.5,58 423.4,58 427.3,58 431.2,58 435.1,58 439,58 442.9,58 446.8,58 450.7,58 454.6,58 458.5,58.1 462.4,58.2 466.3,58.3 470.2,58.4 474.1,58.6 477.9,58.9 481.8,59.2 485.7,59.7 489.6,60.2 493.5,60.9 497.4,61.7 501.3,62.7 505.2,63.9 509.1,65.3 513,67 516.9,68.9 520.8,71 524.7,73.1 528.6,75.4 532.5,77.9 536.4,80.5 540.3,83.2 544.2,86.1 548.1,89.1 552,92.1 555.9,95.2 559.8,98.3 563.7,101.4 567.6,104.4 571.5,107.3 575.4,110.3 579.3,113.2 583.2,116.1 587.1,119.1 591,122.1 594.9,125.2 598.8,128.2 602.7,131.3 606.6,134.2 610.5,137.2 614.4,140.1 618.3,143.2 622.2,146.3 626.1,149.6 630,153.1 633.9,156.9 637.7,160.8 641.6,164.8 645.5,168.8 649.4,172.9 653.3,177.1 657.2,181.3 661.1,185.5 665,189.7 668.9,193.9 672.8,198.2 676.7,202.5 680.6,206.7 684.5,210.9 688.4,215.2 692.3,219.4 696.2,223.5 700.1,227.6 704,231.8 707.9,235.9 711.8,240 715.7,244.1 719.6,248.2 723.5,252.2 727.4,256.3 731.3,260.3 735.2,264.3 739.1,268.3 743,272.3 746.9,276.2 750.8,280.1 754.7,284 758.6,287.9 762.5,291.7 766.4,295.5 770.3,299.3 774.2,303 778.1,306.7 782,310.3 785.9,313.9 789.8,317.5 793.6,321 797.5,324.5 801.4,328 805.3,331.5 809.2,334.9 813.1,338.3 817,341.6 820.9,345 824.8,348.3 828.7,351.6 832.6,354.8 836.5,358.1 840.4,361.3 844.3,364.5 848.2,367.7 852.1,370.9 856,374 859.9,377.2 863.8,380.3 867.7,383.5 871.6,386.6 875.5,389.7 879.4,392.8 883.3,395.8 887.2,398.9 891.1,401.9 895,404.9 898.9,407.9 902.8,410.8 906.7,413.8 910.6,416.7 914.5,419.6 918.4,422.4 922.3,425.3 926.2,428.1 930.1,430.9 934,433.7 937.9,436.5 941.8,439.2 945.6,442 949.5,444.7 953.4,447.4 957.3,450.1 961.2,452.7 965.1,455.4 969,458 972.9,460.6 976.8,463.2 980.7,465.7 984.6,468.3 988.5,470.8 992.4,473.3 996.3,475.8 1000.2,478.3 1004.1,480.8 1008,483.2 1011.9,485.7 1015.8,488.1 1019.7,490.5 1023.6,492.9 1027.5,495.3 1031.4,497.6 1035.3,499.9 1039.2,502.3 1043.1,504.6 1047,506.9 1050.9,509.2 1054.8,511.4 1058.7,513.7 1062.6,515.9 1066.5,518.1 1070.4,520.3 1074.3,522.5 1078.2,524.7 1082.1,526.9 1086,529 1089.9,531.2 1093.8,533.3 1097.7,535.4 1101.5,537.5 1105.4,539.6 1109.3,541.7 1113.2,543.7 1117.1,545.8 1121,547.8 1124.9,549.9 1128.8,551.9 1132.7,553.9 1136.6,555.9 1140.5,557.9 1144.4,559.8 1148.3,561.8 1152.2,563.7 1156.1,565.7 1160,567.6 1163.9,569.5 1167.8,571.4 1171.7,573.4 1175.6,575.2 1179.5,577.1 1183.4,579 1187.3,580.9 1191.2,582.7 1195.1,584.6 1199,586.4 1202.9,588.2 1206.8,590 1210.7,591.8 1214.6,593.6 1218.5,595.4 1222.4,597.2 1226.3,599 1230.2,600.7 1234.1,602.5 1238,604.2 1241.9,606 1245.8,607.7 1249.7,609.4 1253.6,611.1 1257.5,612.8 1261.3,614.5 1265.2,616.1 1269.1,617.8 1273,619.5 1276.9,621.1 1280.8,622.7 1284.7,624.4 1288.6,626 1292.5,627.6 1296.4,629.2 1300.3,630.8 1304.2,632.4 1308.1,633.9 1312,635.5 1315.9,637.1 1319.8,638.6 1323.7,640.1 1327.6,641.7 1331.5,643.2 1335.4,644.7 1339.3,646.2 1343.2,647.7 1347.1,649.1 1351,650.6 1354.9,652.1 1358.8,653.5 1362.7,655 1366.6,656.4 1370.5,657.8 1374.4,659.2 1378.3,660.6 1382.2,662 1386.1,663.4 1390,664.8 1393.9,666.2 1397.8,667.5 1401.7,668.9 1405.6,670.2 1409.5,671.5 1413.3,672.8 1417.2,674.2 1421.1,675.5 1425,676.7 1428.9,678 1432.8,679.3 1436.7,680.6 1440.6,681.8 1444.5,683.1 1448.4,684.3 1452.3,685.5 1456.2,686.7 1460.1,687.9 1464,689.1 1467.9,690.3 1471.8,691.5 1475.7,692.7 1479.6,693.9 1483.5,695 1487.4,696.2 1491.3,697.3 1495.2,698.5 1499.1,699.6 1503,700.7 1506.9,701.9 1510.8,703 1514.7,704.1 1518.6,705.2 1522.5,706.3 1526.4,707.3 1530.3,708.4 1534.2,709.5 1538.1,710.6 1542,711.6 1545.9,712.7 1549.8,713.7 1553.7,714.8 1557.6,715.8 1561.5,716.8 1565.4,717.9 1569.2,718.9 1573.1,719.9 1577,720.9 1580.9,721.9 1584.8,722.9 1588.7,723.9 1592.6,724.9 1596.5,725.8 1600.4,726.8 1604.3,727.8 1608.2,728.7 1612.1,729.7 1616,730.6 1619.9,731.6 1623.8,732.5 1627.7,733.5 1631.6,734.4 1635.5,735.3 1639.4,736.3 1643.3,737.2 1647.2,738.1 1651.1,739 1655,739.9 1658.9,740.8 1662.8,741.7 1666.7,742.6 1670.6,743.5 1674.5,744.4 1678.4,745.3 1682.3,746.1 1686.2,747 1690.1,747.9 1694,748.7 1697.9,749.6 1701.8,750.5 1705.7,751.3 1709.6,752.2 1713.5,753 1717.4,753.9 1721.3,754.7 1725.2,755.5 1729,756.4 1732.9,757.2 1736.8,758 1740.7,758.8 1744.6,759.7 1748.5,760.5 1752.4,761.3 1756.3,762.1 1760.2,762.9 1764.1,763.7 1768,764.5 1771.9,765.3 1775.8,766.1 1779.7,766.9 1783.6,767.6 1787.5,768.4 1791.4,769.2 1795.3,769.9 1799.2,770.7 1803.1,771.5 1807,772.2 1810.9,773 1814.8,773.7 1818.7,774.5 1822.6,775.2 1826.5,776 1830.4,776.7 1834.3,777.5 1838.2,778.2 1842.1,778.9 1846,779.6 1849.9,780.4 1853.8,781.1 1857.7,781.8 1861.6,782.5 1865.5,783.2 1869.4,783.9 1873.3,784.6 1877.2,785.3 1881,786 1884.9,786.7 1888.8,787.4 1892.7,788.1 1896.6,788.8 1900.5,789.5 1904.4,790.1 1908.3,790.8 1912.2,791.5 1916.1,792.2 1920,792.8 1923.9,793.5 1927.8,794.2 1931.7,794.8 1935.6,795.5 1939.5,796.1 1943.4,796.8 1947.3,797.4 1951.2,798.1 1955.1,798.7 1959,799.3"/>
<polyline fill="none" stroke="#00008b" stroke-width="4.4" stroke-linejoin="round" shape-rendering="crispEdges" points="400,58 403.9,58 407.8,58 411.7,58.4 415.6,59.1 419.5,60.1 423.4,61.3 427.3,62.8 431.2,64.5 435.1,66.6 439,69.2 442.9,72.5 446.8,76.6 450.7,81.8 454.6,88.4 458.5,96.1 462.4,104.2 466.3,114 470.2,125.9 474.1,136.6 477.9,147.6 481.8,159.8 485.7,173.1 489.6,187.2 493.5,202.1 497.4,217.5 501.3,233.1 505.2,248.7 509.1,264.1 513,279.3 516.9,294.3 520.8,308.9 524.7,323.2 528.6,337 532.5,350.4 536.4,363.1 540.3,375 544.2,386.2 548.1,396.5 552,406.1 555.9,415.3 559.8,424.5 563.7,433.7 567.6,442.8 571.5,451.7 575.4,460.1 579.3,468.1 583.2,475.5 587.1,482.7 591,489.5 594.9,496 598.8,502.4 602.7,508.7 606.6,514.8 610.5,520.9 614.4,526.8 618.3,532.6 622.2,538.4 626.1,544 630,549.5 633.9,554.8 637.7,560.1 641.6,565.2 645.5,570.3 649.4,575.4 653.3,580.4 657.2,585.3 661.1,590.2 665,595 668.9,599.8 672.8,604.5 676.7,609.2 680.6,613.8 684.5,618.4 688.4,622.9 692.3,627.4 696.2,631.9 700.1,636.3 704,640.7 707.9,645 711.8,649.3 715.7,653.5 719.6,657.7 723.5,661.8 727.4,665.9 731.3,669.9 735.2,673.9 739.1,677.9 743,681.8 746.9,685.6 750.8,689.4 754.7,693.1 758.6,696.8 762.5,700.5 766.4,704.1 770.3,707.7 774.2,711.2 778.1,714.7 782,718.1 785.9,721.5 789.8,724.8 793.6,728.2 797.5,731.4 801.4,734.6 805.3,737.8 809.2,740.9 813.1,744 817,747 820.9,749.9 824.8,752.9 828.7,755.7 832.6,758.6 836.5,761.3 840.4,764.1 844.3,766.8 848.2,769.5 852.1,772.1 856,774.7 859.9,777.3 863.8,779.8 867.7,782.3 871.6,784.8 875.5,787.2 879.4,789.6 883.3,792 887.2,794.3 891.1,796.7 895,799 898.9,801.2 902.8,803.5 906.7,805.7 910.6,807.9 914.5,810.1 918.4,812.2 922.3,814.3 926.2,816.4 930.1,818.5 934,820.5 937.9,822.5 941.8,824.5 945.6,826.5 949.5,828.5 953.4,830.4 957.3,832.3 961.2,834.2 965.1,836.1 969,837.9 972.9,839.7 976.8,841.5 980.7,843.3 984.6,845.1 988.5,846.8 992.4,848.6 996.3,850.3 1000.2,852 1004.1,853.6 1008,855.3 1011.9,856.9 1015.8,858.5 1019.7,860.1 1023.6,861.7 1027.5,863.3 1031.4,864.8 1035.3,866.3 1039.2,867.8 1043.1,869.3 1047,870.8 1050.9,872.2 1054.8,873.6 1058.7,875 1062.6,876.4 1066.5,877.8 1070.4,879.1 1074.3,880.5 1078.2,881.8 1082.1,883.1 1086,884.4 1089.9,885.7 1093.8,886.9 1097.7,888.2 1101.5,889.4 1105.4,890.6 1109.3,891.8 1113.2,893 1117.1,894.2 1121,895.3 1124.9,896.5 1128.8,897.6 1132.7,898.8 1136.6,899.9 1140.5,901 1144.4,902.1 1148.3,903.2 1152.2,904.2 1156.1,905.3 1160,906.3 1163.9,907.4 1167.8,908.4 1171.7,909.4 1175.6,910.5 1179.5,911.5 1183.4,912.5 1187.3,913.4 1191.2,914.4 1195.1,915.4 1199,916.3 1202.9,917.2 1206.8,918.2 1210.7,919.1 1214.6,920 1218.5,920.9 1222.4,921.7 1226.3,922.6 1230.2,923.4 1234.1,924.3 1238,925.1 1241.9,925.9 1245.8,926.7 1249.7,927.5 1253.6,928.3 1257.5,929.1 1261.3,929.8 1265.2,930.6 1269.1,931.3 1273,932 1276.9,932.8 1280.8,933.5 1284.7,934.2 1288.6,934.9 1292.5,935.5 1296.4,936.2 1300.3,936.9 1304.2,937.5 1308.1,938.2 1312,938.8 1315.9,939.5 1319.8,940.1 1323.7,940.7 1327.6,941.3 1331.5,941.9 1335.4,942.5 1339.3,943.1 1343.2,943.7 1347.1,944.3 1351,944.9 1354.9,945.4 1358.8,946 1362.7,946.6 1366.6,947.2 1370.5,947.7 1374.4,948.3 1378.3,948.8 1382.2,949.4 1386.1,949.9 1390,950.5 1393.9,951 1397.8,951.5 1401.7,952.1 1405.6,952.6 1409.5,953.1 1413.3,953.6 1417.2,954.1 1421.1,954.7 1425,955.2 1428.9,955.7 1432.8,956.1 1436.7,956.6 1440.6,957.1 1444.5,957.6 1448.4,958.1 1452.3,958.5 1456.2,959 1460.1,959.4 1464,959.9 1467.9,960.3 1471.8,960.8 1475.7,961.2 1479.6,961.6 1483.5,962.1 1487.4,962.5 1491.3,962.9 1495.2,963.3 1499.1,963.7 1503,964.1 1506.9,964.5 1510.8,964.9 1514.7,965.3 1518.6,965.7 1522.5,966 1526.4,966.4 1530.3,966.8 1534.2,967.2 1538.1,967.6 1542,967.9 1545.9,968.3 1549.8,968.7 1553.7,969 1557.6,969.4 1561.5,969.8 1565.4,970.1 1569.2,970.5 1573.1,970.8 1577,971.2 1580.9,971.5 1584.8,971.9 1588.7,972.2 1592.6,972.5 1596.5,972.9 1600.4,973.2 1604.3,973.5 1608.2,973.9 1612.1,974.2 1616,974.5 1619.9,974.8 1623.8,975.2 1627.7,975.5 1631.6,975.8 1635.5,976.1 1639.4,976.4 1643.3,976.7 1647.2,977 1651.1,977.3 1655,977.6 1658.9,977.9 1662.8,978.2 1666.7,978.5 1670.6,978.8 1674.5,979 1678.4,979.3 1682.3,979.6 1686.2,979.9 1690.1,980.1 1694,980.4 1697.9,980.7 1701.8,980.9 1705.7,981.2 1709.6,981.4 1713.5,981.7 1717.4,981.9 1721.3,982.2 1725.2,982.4 1729,982.7 1732.9,982.9 1736.8,983.1 1740.7,983.4 1744.6,983.6 1748.5,983.8 1752.4,984.1 1756.3,984.3 1760.2,984.5 1764.1,984.8 1768,985 1771.9,985.2 1775.8,985.4 1779.7,985.6 1783.6,985.9 1787.5,986.1 1791.4,986.3 1795.3,986.5 1799.2,986.7 1803.1,986.9 1807,987.1 1810.9,987.4 1814.8,987.6 1818.7,987.8 1822.6,988 1826.5,988.2 1830.4,988.4 1834.3,988.6 1838.2,988.8 1842.1,989 1846,989.2 1849.9,989.4 1853.8,989.6 1857.7,989.7 1861.6,989.9 1865.5,990.1 1869.4,990.3 1873.3,990.5 1877.2,990.7 1881,990.8 1884.9,991 1888.8,991.2 1892.7,991.4 1896.6,991.6 1900.5,991.7 1904.4,991.9 1908.3,992.1 1912.2,992.2 1916.1,992.4 1920,992.6 1923.9,992.7 1927.8,992.9 1931.7,993 1935.6,993.2 1939.5,993.4 1943.4,993.5 1947.3,993.7 1951.2,993.8 1955.1,994 1959,994.1"/>
<polyline fill="none" stroke="#006400" stroke-width="4.4" stroke-linejoin="round" shape-rendering="crispEdges" points="400,58 403.9,58 407.8,58 411.7,58 415.6,58.1 419.5,58.3 423.4,58.8 427.3,59.5 431.2,60.6 435.1,61.9 439,63.5 442.9,65.5 446.8,67.9 450.7,70.6 454.6,73.8 458.5,77.6 462.4,81.9 466.3,86.9 470.2,92.6 474.1,99 477.9,106 481.8,113.4 485.7,121.2 489.6,129.2 493.5,137.3 497.4,145.4 501.3,153.5 505.2,161.5 509.1,169.5 513,177.5 516.9,185.4 520.8,193.3 524.7,201 528.6,208.5 532.5,215.8 536.4,222.9 540.3,229.6 544.2,236.2 548.1,242.6 552,248.8 555.9,254.8 559.8,260.7 563.7,266.4 567.6,272 571.5,277.5 575.4,282.8 579.3,288.1 583.2,293.2 587.1,298.2 591,303.2 594.9,308 598.8,312.8 602.7,317.5 606.6,322.2 610.5,326.9 614.4,331.5 618.3,336.1 622.2,340.7 626.1,345.3 630,349.8 633.9,354.4 637.7,359 641.6,363.6 645.5,368.2 649.4,372.8 653.3,377.4 657.2,382.1 661.1,386.7 665,391.2 668.9,395.8 672.8,400.2 676.7,404.6 680.6,409 684.5,413.3 688.4,417.5 692.3,421.8 696.2,426.1 700.1,430.3 704,434.6 707.9,438.9 711.8,443.1 715.7,447.4 719.6,451.6 723.5,455.9 727.4,460.1 731.3,464.3 735.2,468.4 739.1,472.4 743,476.4 746.9,480.3 750.8,484.2 754.7,488 758.6,491.8 762.5,495.6 766.4,499.3 770.3,503 774.2,506.6 778.1,510.3 782,513.9 785.9,517.6 789.8,521.2 793.6,524.8 797.5,528.4 801.4,531.9 805.3,535.3 809.2,538.7 813.1,542 817,545.3 820.9,548.6 824.8,551.8 828.7,554.9 832.6,558 836.5,561.1 840.4,564.1 844.3,567.1 848.2,570.1 852.1,573 856,575.9 859.9,578.8 863.8,581.6 867.7,584.4 871.6,587.1 875.5,589.9 879.4,592.6 883.3,595.3 887.2,598 891.1,600.6 895,603.3 898.9,605.9 902.8,608.5 906.7,611 910.6,613.6 914.5,616.1 918.4,618.6 922.3,621.1 926.2,623.6 930.1,626 934,628.4 937.9,630.8 941.8,633.2 945.6,635.6 949.5,637.9 953.4,640.2 957.3,642.5 961.2,644.8 965.1,647.1 969,649.3 972.9,651.5 976.8,653.7 980.7,655.9 984.6,658 988.5,660.1 992.4,662.2 996.3,664.3 1000.2,666.4 1004.1,668.4 1008,670.5 1011.9,672.5 1015.8,674.5 1019.7,676.5 1023.6,678.4 1027.5,680.4 1031.4,682.3 1035.3,684.2 1039.2,686.1 1043.1,688 1047,689.8 1050.9,691.7 1054.8,693.5 1058.7,695.4 1062.6,697.2 1066.5,699 1070.4,700.7 1074.3,702.5 1078.2,704.2 1082.1,706 1086,707.7 1089.9,709.4 1093.8,711.1 1097.7,712.8 1101.5,714.5 1105.4,716.1 1109.3,717.8 1113.2,719.4 1117.1,721.1 1121,722.7 1124.9,724.3 1128.8,725.8 1132.7,727.4 1136.6,729 1140.5,730.5 1144.4,732.1 1148.3,733.6 1152.2,735.1 1156.1,736.6 1160,738.1 1163.9,739.5 1167.8,741 1171.7,742.5 1175.6,743.9 1179.5,745.3 1183.4,746.7 1187.3,748.1 1191.2,749.5 1195.1,750.9 1199,752.3 1202.9,753.6 1206.8,755 1210.7,756.3 1214.6,757.7 1218.5,759 1222.4,760.3 1226.3,761.6 1230.2,762.9 1234.1,764.2 1238,765.4 1241.9,766.7 1245.8,767.9 1249.7,769.2 1253.6,770.4 1257.5,771.6 1261.3,772.8 1265.2,774 1269.1,775.2 1273,776.4 1276.9,777.6 1280.8,778.7 1284.7,779.9 1288.6,781.1 1292.5,782.2 1296.4,783.3 1300.3,784.5 1304.2,785.6 1308.1,786.7 1312,787.8 1315.9,788.9 1319.8,790 1323.7,791.1 1327.6,792.2 1331.5,793.3 1335.4,794.3 1339.3,795.4 1343.2,796.4 1347.1,797.5 1351,798.5 1354.9,799.5 1358.8,800.5 1362.7,801.5 1366.6,802.5 1370.5,803.5 1374.4,804.5 1378.3,805.5 1382.2,806.5 1386.1,807.4 1390,808.4 1393.9,809.3 1397.8,810.3 1401.7,811.2 1405.6,812.1 1409.5,813.1 1413.3,814 1417.2,814.9 1421.1,815.8 1425,816.7 1428.9,817.6 1432.8,818.4 1436.7,819.3 1440.6,820.2 1444.5,821 1448.4,821.9 1452.3,822.7 1456.2,823.6 1460.1,824.4 1464,825.3 1467.9,826.1 1471.8,826.9 1475.7,827.7 1479.6,828.5 1483.5,829.3 1487.4,830.1 1491.3,830.9 1495.2,831.7 1499.1,832.5 1503,833.3 1506.9,834.1 1510.8,834.8 1514.7,835.6 1518.6,836.4 1522.5,837.1 1526.4,837.9 1530.3,838.6 1534.2,839.4 1538.1,840.1 1542,840.9 1545.9,841.6 1549.8,842.3 1553.7,843.1 1557.6,843.8 1561.5,844.5 1565.4,845.2 1569.2,845.9 1573.1,846.7 1577,847.4 1580.9,848.1 1584.8,848.8 1588.7,849.5 1592.6,850.2 1596.5,850.8 1600.4,851.5 1604.3,852.2 1608.2,852.9 1612.1,853.6 1616,854.2 1619.9,854.9 1623.8,855.6 1627.7,856.2 1631.6,856.9 1635.5,857.5 1639.4,858.2 1643.3,858.8 1647.2,859.5 1651.1,860.1 1655,860.7 1658.9,861.4 1662.8,862 1666.7,862.6 1670.6,863.2 1674.5,863.8 1678.4,864.4 1682.3,865 1686.2,865.6 1690.1,866.2 1694,866.8 1697.9,867.3 1701.8,867.9 1705.7,868.5 1709.6,869 1713.5,869.6 1717.4,870.1 1721.3,870.7 1725.2,871.2 1729,871.7 1732.9,872.3 1736.8,872.8 1740.7,873.3 1744.6,873.8 1748.5,874.3 1752.4,874.8 1756.3,875.3 1760.2,875.8 1764.1,876.3 1768,876.7 1771.9,877.2 1775.8,877.7 1779.7,878.1 1783.6,878.6 1787.5,879 1791.4,879.5 1795.3,879.9 1799.2,880.3 1803.1,880.8 1807,881.2 1810.9,881.6 1814.8,882 1818.7,882.4 1822.6,882.8 1826.5,883.2 1830.4,883.7 1834.3,884.1 1838.2,884.5 1842.1,884.9 1846,885.2 1849.9,885.6 1853.8,886 1857.7,886.4 1861.6,886.8 1865.5,887.2 1869.4,887.6 1873.3,888 1877.2,888.4 1881,888.8 1884.9,889.2 1888.8,889.6 1892.7,890 1896.6,890.3 1900.5,890.7 1904.4,891.1 1908.3,891.5 1912.2,891.9 1916.1,892.3 1920,892.7 1923.9,893.2 1927.8,893.6 1931.7,894 1935.6,894.4 1939.5,894.8 1943.4,895.2 1947.3,895.7 1951.2,896.1 1955.1,896.5 1959,897"/>
<rect x="1637" y="117.0" width="222" height="4" fill="#ff0000" shape-rendering="crispEdges"/>
<rect x="1637" y="201.0" width="222" height="4" fill="#00008b" shape-rendering="crispEdges"/>
<rect x="1637" y="285.0" width="222" height="4" fill="#006400" shape-rendering="crispEdges"/>
<g stroke="#000" stroke-width="2" shape-rendering="crispEdges">
<line x1="790" y1="1119" x2="790" y2="1099"/>
<line x1="790" y1="58" x2="790" y2="78"/>
<line x1="1180" y1="1119" x2="1180" y2="1099"/>
<line x1="1180" y1="58" x2="1180" y2="78"/>
<line x1="1569" y1="1119" x2="1569" y2="1099"/>
<line x1="1569" y1="58" x2="1569" y2="78"/>
<line x1="400" y1="907" x2="420" y2="907"/>
<line x1="1959" y1="907" x2="1939" y2="907"/>
<line x1="400" y1="695" x2="420" y2="695"/>
<line x1="1959" y1="695" x2="1939" y2="695"/>
<line x1="400" y1="482" x2="420" y2="482"/>
<line x1="1959" y1="482" x2="1939" y2="482"/>
<line x1="400" y1="270" x2="420" y2="270"/>
<line x1="1959" y1="270" x2="1939" y2="270"/>
</g>
<rect x="400" y="58" width="1559" height="1061" fill="none" stroke="#000" stroke-width="4" shape-rendering="crispEdges"/>
<text transform="translate(388.63 1232.3) scale(1 1.04)">0</text>
<text transform="translate(754.91 1232.3) scale(1 1.04)">50</text>
<text transform="translate(1121.19 1232.3) scale(1 1.04)"><tspan class="one" x="0.35" dy="-0.95">1</tspan><tspan x="46.94" dy="0.95">00</tspan></text>
<text transform="translate(1510.94 1232.3) scale(1 1.04)"><tspan class="one" x="0.35" dy="-0.95">1</tspan><tspan x="46.94" dy="0.95">50</tspan></text>
<text transform="translate(1900.69 1232.3) scale(1 1.04)">200</text>
<text transform="translate(302.96 1147.4) scale(1 1.04)">0</text>
<text transform="translate(232.57 935.2) scale(1 1.04)">0.2</text>
<text transform="translate(232.57 723) scale(1 1.04)">0.4</text>
<text transform="translate(232.57 510.8) scale(1 1.04)">0.6</text>
<text transform="translate(232.57 298.6) scale(1 1.04)">0.8</text>
<text transform="translate(302.96 86.4) scale(1 1.04)"><tspan class="one" x="0.35" dy="-0.95">1</tspan></text>
<text x="1272.99" y="146.7">collinear</text>
<text x="1231.18" y="230.7">T-shaped</text>
<text x="1469.48" y="315.5"><tspan class="pi" font-size="89.46" stroke="#000" stroke-width="1">π</tspan><tspan x="1516.28">/4</tspan></text>
<text x="619.71" y="1350">Cs<tspan font-size="67.52" dy="24">2</tspan><tspan dy="-24">-C</tspan><tspan font-size="67.52" dy="24">60</tspan><tspan dy="-24"> relative velocity (m/s)</tspan></text>
<text transform="translate(83 1103.97) rotate(-90)" style="font-size:84.07px">electron hopping probability</text>
</svg></body></html>
